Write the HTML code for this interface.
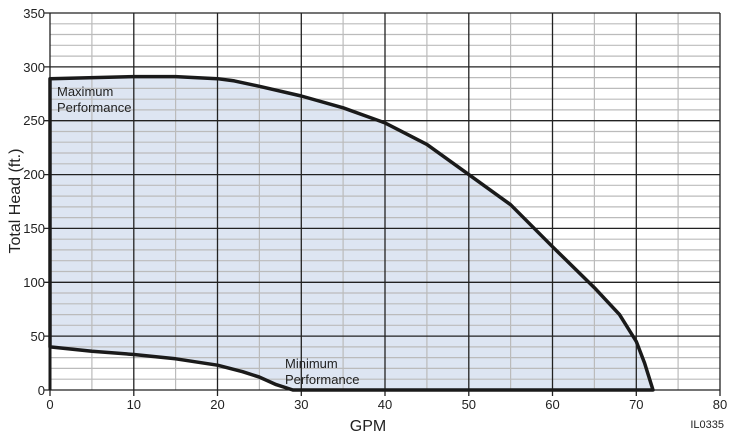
<!DOCTYPE html>
<html><head><style>body{margin:0;background:#fff}svg{display:block;font-family:"Liberation Sans",Arial,sans-serif}</style></head><body>
<svg width="735" height="441" viewBox="0 0 735 441" xmlns="http://www.w3.org/2000/svg">
<defs>
<clipPath id="c"><rect x="50" y="13" width="670" height="377"/></clipPath>
</defs>
<g id="area">
<path d="M50,78.7 L133.8,76.6 L175.6,76.6 L217.5,78.7 L234.3,80.9 L259.4,86.3 L301.3,96 L343.1,107.8 L385,122.9 L426.9,144.4 L468.8,174.6 L510.6,204.7 L552.5,246.7 L594.4,287.7 L619.5,314.6 L636.3,341.5 L644.6,363.1 L653,390 L292.9,390 L276.1,384.6 L259.4,377.1 L242.6,371.7 L217.5,365.2 L175.6,358.8 L133.8,354.5 L91.9,351.2 L50,346.9 Z" fill="#dde5f2"/>
</g>
<g stroke="#bbbbbb" stroke-width="1.2">
<line x1="50" y1="23.8" x2="720" y2="23.8"/><line x1="50" y1="34.5" x2="720" y2="34.5"/><line x1="50" y1="45.3" x2="720" y2="45.3"/><line x1="50" y1="56.1" x2="720" y2="56.1"/>
<line x1="50" y1="77.6" x2="720" y2="77.6"/><line x1="50" y1="88.4" x2="720" y2="88.4"/><line x1="50" y1="99.2" x2="720" y2="99.2"/><line x1="50" y1="109.9" x2="720" y2="109.9"/>
<line x1="50" y1="131.5" x2="720" y2="131.5"/><line x1="50" y1="142.2" x2="720" y2="142.2"/><line x1="50" y1="153" x2="720" y2="153"/><line x1="50" y1="163.8" x2="720" y2="163.8"/>
<line x1="50" y1="185.3" x2="720" y2="185.3"/><line x1="50" y1="196.1" x2="720" y2="196.1"/><line x1="50" y1="206.9" x2="720" y2="206.9"/><line x1="50" y1="217.6" x2="720" y2="217.6"/>
<line x1="50" y1="239.2" x2="720" y2="239.2"/><line x1="50" y1="249.9" x2="720" y2="249.9"/><line x1="50" y1="260.7" x2="720" y2="260.7"/><line x1="50" y1="271.5" x2="720" y2="271.5"/>
<line x1="50" y1="293" x2="720" y2="293"/><line x1="50" y1="303.8" x2="720" y2="303.8"/><line x1="50" y1="314.6" x2="720" y2="314.6"/><line x1="50" y1="325.3" x2="720" y2="325.3"/>
<line x1="50" y1="346.9" x2="720" y2="346.9"/><line x1="50" y1="357.6" x2="720" y2="357.6"/><line x1="50" y1="368.4" x2="720" y2="368.4"/><line x1="50" y1="379.2" x2="720" y2="379.2"/>
<line x1="91.9" y1="13" x2="91.9" y2="390"/><line x1="175.6" y1="13" x2="175.6" y2="390"/><line x1="259.4" y1="13" x2="259.4" y2="390"/><line x1="343.1" y1="13" x2="343.1" y2="390"/>
<line x1="426.9" y1="13" x2="426.9" y2="390"/><line x1="510.6" y1="13" x2="510.6" y2="390"/><line x1="594.4" y1="13" x2="594.4" y2="390"/><line x1="678.1" y1="13" x2="678.1" y2="390"/>
</g>
<g stroke="#222" stroke-width="1.3">
<line x1="44" y1="13" x2="720" y2="13"/><line x1="44" y1="66.9" x2="720" y2="66.9"/><line x1="44" y1="120.7" x2="720" y2="120.7"/><line x1="44" y1="174.6" x2="720" y2="174.6"/><line x1="44" y1="228.4" x2="720" y2="228.4"/><line x1="44" y1="282.3" x2="720" y2="282.3"/><line x1="44" y1="336.1" x2="720" y2="336.1"/><line x1="44" y1="390" x2="720" y2="390"/>
<line x1="50" y1="13" x2="50" y2="396"/><line x1="133.8" y1="13" x2="133.8" y2="396"/><line x1="217.5" y1="13" x2="217.5" y2="396"/><line x1="301.3" y1="13" x2="301.3" y2="396"/><line x1="385" y1="13" x2="385" y2="396"/><line x1="468.8" y1="13" x2="468.8" y2="396"/><line x1="552.5" y1="13" x2="552.5" y2="396"/><line x1="636.3" y1="13" x2="636.3" y2="396"/><line x1="720" y1="13" x2="720" y2="396"/>
</g>
<path d="M50,78.7 L133.8,76.6 L175.6,76.6 L217.5,78.7 L234.3,80.9 L259.4,86.3 L301.3,96 L343.1,107.8 L385,122.9 L426.9,144.4 L468.8,174.6 L510.6,204.7 L552.5,246.7 L594.4,287.7 L619.5,314.6 L636.3,341.5 L644.6,363.1 L653,390 L292.9,390 L276.1,384.6 L259.4,377.1 L242.6,371.7 L217.5,365.2 L175.6,358.8 L133.8,354.5 L91.9,351.2 L50,346.9 Z" fill="none" stroke="#1a1a1a" stroke-width="3.5" stroke-linejoin="round"/>
<line x1="50" y1="78" x2="50" y2="390" stroke="#1a1a1a" stroke-width="3"/>
<g font-size="13" fill="#222" text-anchor="end">
<text x="45" y="18">350</text><text x="45" y="72">300</text><text x="45" y="125">250</text><text x="45" y="179">200</text><text x="45" y="233">150</text><text x="45" y="287">100</text><text x="45" y="341">50</text><text x="45" y="395">0</text>
</g>
<g font-size="13" fill="#222" text-anchor="middle">
<text x="50" y="409">0</text><text x="133.8" y="409">10</text><text x="217.5" y="409">20</text><text x="301.3" y="409">30</text><text x="385" y="409">40</text><text x="468.8" y="409">50</text><text x="552.5" y="409">60</text><text x="636.3" y="409">70</text><text x="720" y="409">80</text>
</g>
<text x="368" y="431" font-size="16" text-anchor="middle" fill="#222">GPM</text>
<text transform="translate(20,201) rotate(-90)" font-size="16" text-anchor="middle" fill="#222">Total Head (ft.)</text>
<text x="724" y="428" font-size="11" text-anchor="end" fill="#222">IL0335</text>
<g font-size="13" fill="#222">
<text x="57" y="96">Maximum</text><text x="57" y="112">Performance</text>
<text x="285" y="368">Minimum</text><text x="285" y="384">Performance</text>
</g>
</svg>
</body></html>
